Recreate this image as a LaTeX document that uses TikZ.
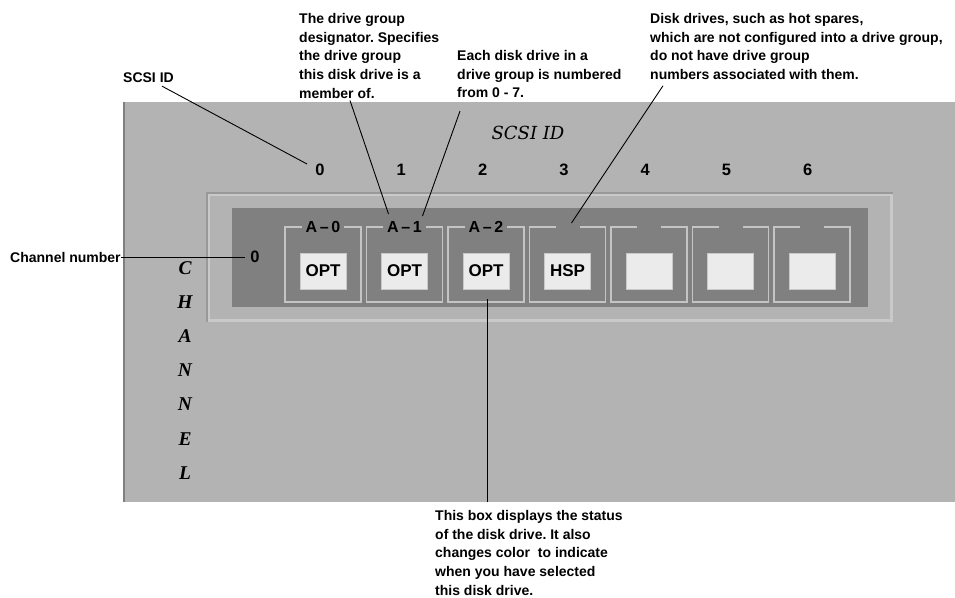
\documentclass[tikz,border=0pt]{standalone}
\usepackage{fontspec}
\setmainfont{Liberation Sans}
\newfontfamily\titlefont{DejaVu Serif}
\newfontfamily\chanfont{Liberation Serif}
\definecolor{panelgray}{HTML}{B3B3B3}
\definecolor{darkpanel}{HTML}{808080}
\definecolor{etchlight}{HTML}{C9C9C9}
\definecolor{etchdark}{HTML}{999999}
\definecolor{btnface}{HTML}{EBEBEB}
\definecolor{cellline}{HTML}{C4C4C4}
\frenchspacing

\begin{document}
\begin{tikzpicture}[x=1pt, y=-1pt,
  note/.style={align=left, inner sep=0, anchor=north west,
    font=\bfseries\fontsize{14}{18.7}\selectfont},
  callout/.style={black, line width=0.9pt},
  cellbox/.style={draw=cellline, line width=1.3pt, minimum width=76pt,
    minimum height=75pt, inner sep=0},
  grplbl/.style={fill=darkpanel, inner xsep=4pt, inner ysep=1pt,
    minimum width=24pt, minimum height=8pt,
    font=\bfseries\fontsize{16}{16}\selectfont},
  stbtn/.style={fill=btnface, draw=etchlight, line width=0.8pt,
    minimum width=46pt, minimum height=36pt, inner sep=0,
    font=\bfseries\fontsize{17}{17}\selectfont},
  idnum/.style={inner sep=0, font=\bfseries\fontsize{16.5}{16.5}\selectfont}]
  \useasboundingbox (0,0) rectangle (955,597);

  % the panel
  \fill[panelgray] (123,102) rectangle (955,502);
  \draw[darkpanel, line width=2pt] (124,102) -- (124,502);
  \draw[etchlight, line width=3pt] (208.5,194.5) rectangle (891.5,320.5);
  \draw[etchdark, line width=1.2pt] (207,322) |- (893,193);
  \fill[darkpanel] (232,208) rectangle (868,307);

  \node[inner sep=0, font=\titlefont\itshape\fontsize{18}{18}\selectfont]
    (idtitle) at (528,133) {SCSI ID};
  \node[inner sep=0, align=center, anchor=north,
    font=\chanfont\bfseries\itshape\fontsize{19.5}{34.2}\selectfont]
    (chantitle) at (185,261) {C\\H\\A\\N\\N\\E\\L};
  \node[idnum] (chan0) at (255,257) {0};

  % drives 0-6
  \foreach \i/\grp/\st in {0/A\,--\,0/OPT,1/A\,--\,1/OPT,2/A\,--\,2/OPT,3//HSP,4//,5//,6//} {
    \node[cellbox] (cell\i) at ({323+81.5*\i},264.5) {};
    \node[grplbl] (grp\i) at ({323+81.5*\i},227) {\grp};
    \node[stbtn] (btn\i) at ({323+81.5*\i},271) {\st};
    \node[idnum] (id\i) at ({320+81.3*\i},170) {\i};
  }

  % notes
  \node[inner sep=0, anchor=west, font=\bfseries\fontsize{14}{18.7}\selectfont]
    (idnote) at (123,78) {SCSI ID};
  \node[inner sep=0, anchor=west, font=\bfseries\fontsize{14}{18.7}\selectfont]
    (channote) at (10,257) {Channel number};
  \node[note] (grpnote) at (299,13) {The drive group\\designator. Specifies\\the drive group\\this disk drive is a\\member of.};
  \node[note] (numnote) at (457,50) {Each disk drive in a\\drive group is numbered\\from 0 - 7.};
  \node[note] (sparenote) at (650,13) {Disk drives, such as hot spares,\\which are not configured into a drive group,\\do not have drive group\\numbers associated with them.};
  \node[note] (statusnote) at (435,510) {This box displays the status\\of the disk drive. It also\\changes color\ \ to indicate\\when you have selected\\this disk drive.};
  \coordinate (statusend) at ([shift={(52,-8)}]statusnote.north west);

  \draw[callout] ([shift={(39,3)}]idnote.south west) -- ([shift={(-13,-6)}]id0.center);
  \draw[callout] (channote.east) -- ([xshift=-5pt]chan0.west);
  \draw[callout] ([shift={(51,2)}]grpnote.south west) -- ([shift={(-16,-13)}]grp1.center);
  \draw[callout] ([shift={(3,13)}]numnote.south west) -- ([shift={(18,-11)}]grp1.center);
  \draw[callout] ([shift={(13,6)}]sparenote.south west) -- ([shift={(4,-4)}]grp3.center);
  \draw[callout] ([shift={(1,10)}]btn2.south) -- (statusend);
\end{tikzpicture}
\end{document}
